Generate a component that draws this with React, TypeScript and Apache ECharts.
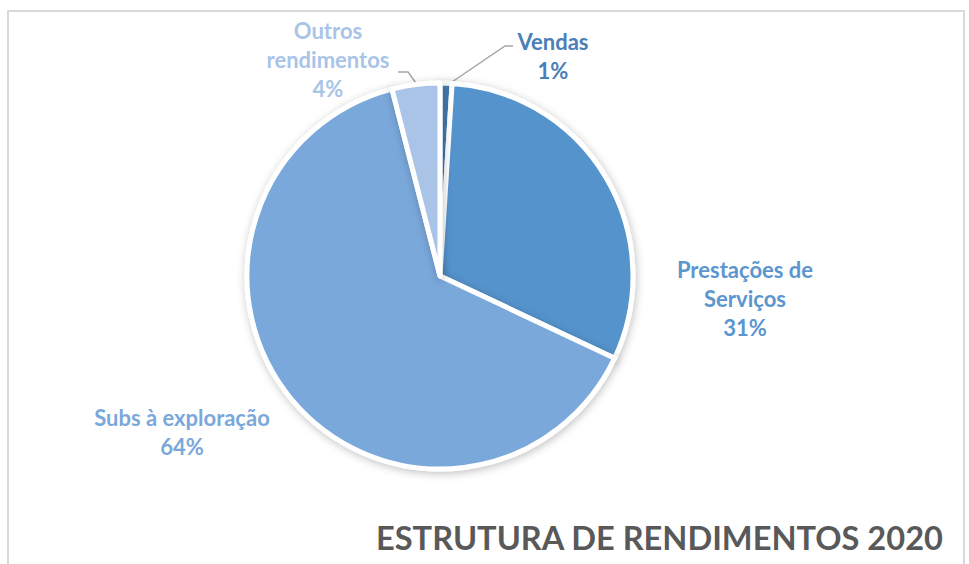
import React, { useEffect, useRef } from "react";
import * as echarts from "echarts";

const categories = ["Vendas", "Prestações de\nServiços", "Subs à exploração", "Outros\nrendimentos"];
const values = [1, 31, 64, 4];
const sliceColors = ["#4a80b9", "#5593cd", "#7aa8da", "#a9c4e7"];
const labelColors = ["#4a80b9", "#5b96cf", "#7aa8da", "#a9c4e7"];
const titleText = "ESTRUTURA DE RENDIMENTOS 2020";

const labelPos: { x: number; y: number; line?: number[][] }[] = [
  { x: 553, y: 56, line: [[449, 84], [505, 46], [513, 46]] },
  { x: 745, y: 298 },
  { x: 182, y: 432 },
  { x: 328, y: 59, line: [[398, 72], [408, 72], [416, 83]] },
];

export default function App() {
  const ref = useRef<HTMLDivElement>(null);
  useEffect(() => {
    document.body.style.margin = "0";
    const chart = echarts.init(ref.current!, null, { renderer: "svg" });
    const font = "Lato, 'Noto Sans', sans-serif";
    chart.setOption({
      animation: false,
      backgroundColor: "#ffffff",
      graphic: [
        {
          type: "rect",
          shape: { x: 8, y: 11, width: 956, height: 600 },
          style: { fill: "none", stroke: "#d9d9d9", lineWidth: 2 },
          silent: true,
        },
      ],
      title: {
        text: titleText,
        left: 371,
        top: 516,
        textStyle: { color: "#595959", fontSize: 32.6, fontWeight: "bold", fontFamily: font },
      },
      series: [
        {
          type: "pie",
          center: [440, 276],
          radius: 193,
          startAngle: 90,
          clockwise: true,
          selectedMode: false,
          emphasis: { disabled: true },
          itemStyle: {
            borderColor: "#ffffff",
            borderWidth: 5,
            shadowBlur: 8,
            shadowColor: "rgba(0,0,0,0.25)",
            shadowOffsetX: 1,
            shadowOffsetY: 2,
          },
          label: {
            show: true,
            formatter: "{b}\n{d}%",
            fontFamily: font,
            fontWeight: "bold",
            fontSize: 22,
            lineHeight: 29,
            align: "center",
          },
          labelLine: { show: false, lineStyle: { color: "#a6a6a6", width: 1.5 } },
          labelLayout: (p: any) => {
            const lp = labelPos[p.dataIndex];
            const r: any = { x: lp.x, y: lp.y, align: "center", verticalAlign: "middle" };
            if (lp.line) r.labelLinePoints = lp.line;
            return r;
          },
          data: categories.map((name, i) => ({
            name,
            value: values[i],
            itemStyle: { color: sliceColors[i] },
            label: { color: labelColors[i] },
            labelLine: { show: !!labelPos[i].line },
          })),
        },
      ],
    });
    return () => chart.dispose();
  }, []);
  return <div ref={ref} style={{ width: 969, height: 564 }} />;
}
